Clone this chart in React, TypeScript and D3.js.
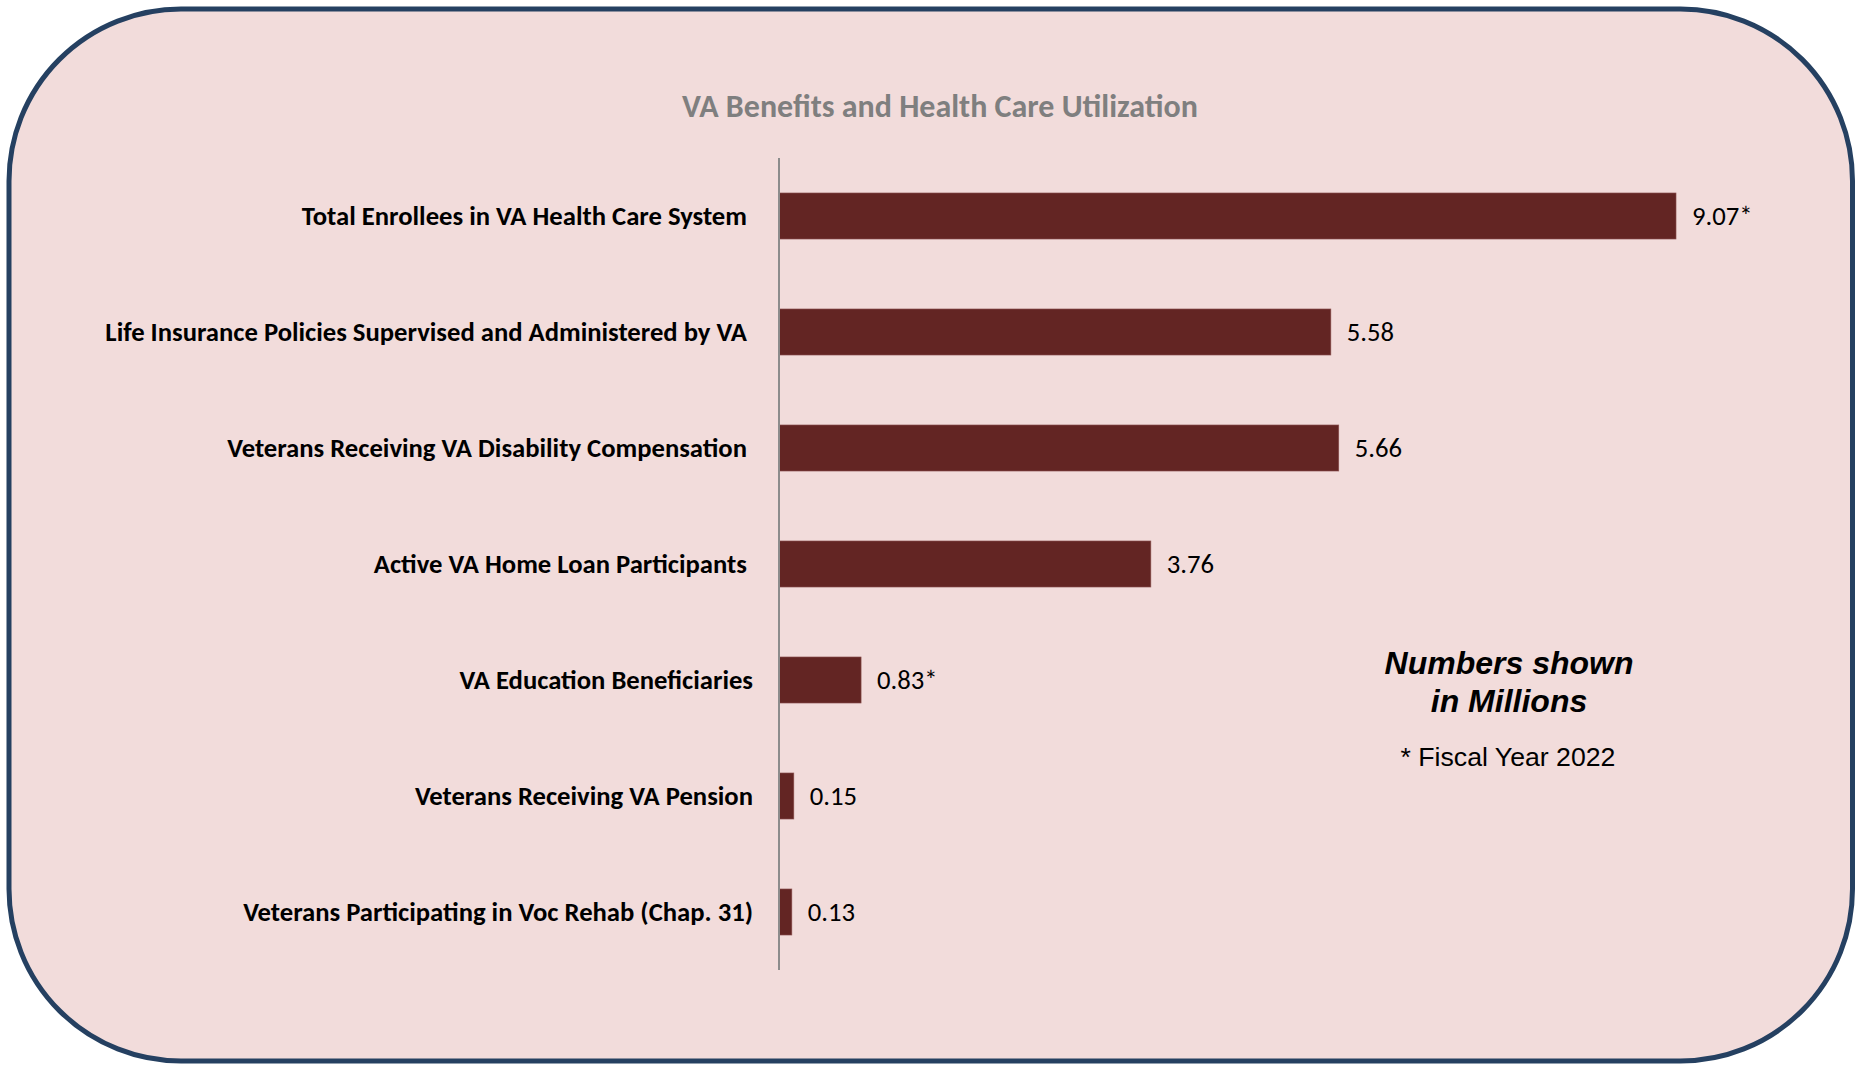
import React from "react";
import * as d3 from "d3";

const categories = [
  "Total Enrollees in VA Health Care System ",
  "Life Insurance Policies Supervised and Administered by VA ",
  "Veterans Receiving VA Disability Compensation ",
  "Active VA Home Loan Participants ",
  "VA Education Beneficiaries",
  "Veterans Receiving VA Pension",
  "Veterans Participating in Voc Rehab (Chap. 31)",
];
const values = [9.07, 5.58, 5.66, 3.76, 0.83, 0.15, 0.13];
const valueLabels = ["9.07*", "5.58", "5.66", "3.76", "0.83*", "0.15", "0.13"];
const title = "VA Benefits and Health Care Utilization";
const noteLines = ["Numbers shown", "in Millions"];
const footnote = "* Fiscal Year 2022";

const W = 1865;
const H = 1066;
const CAL = "Carlito, Calibri, Lato, 'Open Sans', sans-serif";
const ARIAL = "'Liberation Sans', Arial, sans-serif";

export default function App() {
  const x = d3.scaleLinear().domain([0, 10]).range([779, 1768]);
  const y = d3
    .scaleBand<string>()
    .domain(categories)
    .range([158, 970])
    .paddingInner(0.603)
    .paddingOuter(0.3015);
  const bh = y.bandwidth();

  return (
    <svg
      width={W}
      height={H}
      viewBox={`0 0 ${W} ${H}`}
      style={{ position: "absolute", left: 0, top: 0, background: "#ffffff" }}
    >
      <rect
        x={9}
        y={9}
        width={1843.5}
        height={1052}
        rx={172}
        ry={172}
        fill="#F2DCDB"
        stroke="#254061"
        strokeWidth={5}
      />
      <text
        x={940}
        y={117}
        textAnchor="middle"
        fontFamily={CAL}
        fontWeight="bold"
        fontSize={32}
        fill="#7F7F7F"
      >
        {title}
      </text>

      {categories.map((c, i) => (
        <g key={c}>
          <rect
            x={x(0)}
            y={y(c)!}
            width={x(values[i]) - x(0)}
            height={bh}
            fill="#632523"
            stroke="#8E5553"
            strokeWidth={0.6}
          />
          <text
            x={x(0) - 26}
            y={y(c)! + bh / 2}
            dy="0.33em"
            textAnchor="end"
            fontFamily={CAL}
            fontWeight="bold"
            fontSize={26.67}
            fill="#000000"
            style={{ whiteSpace: "pre" }}
          >
            {c}
          </text>
          <text
            x={x(values[i]) + 16}
            y={y(c)! + bh / 2}
            dy="0.35em"
            textAnchor="start"
            fontFamily={CAL}
            fontSize={26.67}
            fill="#000000"
          >
            {valueLabels[i]}
          </text>
        </g>
      ))}

      <line
        x1={x(0)}
        x2={x(0)}
        y1={y.range()[0]}
        y2={y.range()[1]}
        stroke="#8C8C8C"
        strokeWidth={2}
      />

      {noteLines.map((t, i) => (
        <text
          key={t}
          x={1509}
          y={674 + i * 38}
          textAnchor="middle"
          fontFamily={ARIAL}
          fontWeight="bold"
          fontStyle="italic"
          fontSize={32}
          fill="#000000"
        >
          {t}
        </text>
      ))}
      <text
        x={1508}
        y={766}
        textAnchor="middle"
        fontFamily={ARIAL}
        fontSize={26.67}
        fill="#000000"
      >
        {footnote}
      </text>
    </svg>
  );
}
